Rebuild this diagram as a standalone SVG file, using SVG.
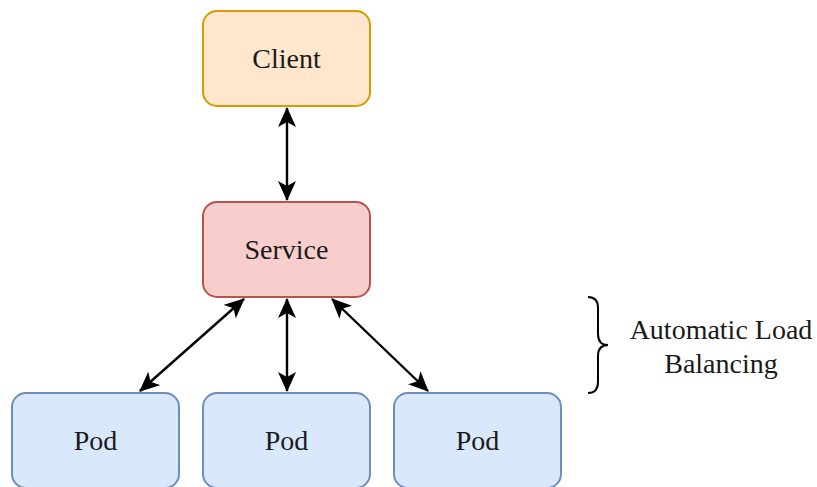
<svg xmlns="http://www.w3.org/2000/svg" width="817" height="487" viewBox="0 0 817 487">
<style>
.box{stroke-width:2}
.client{fill:#ffe6cc;stroke:#d79b00}
.service{fill:#f8cecc;stroke:#b85450}
.pod{fill:#dae8fc;stroke:#6c8ebf}
.lbl{font-family:"Liberation Serif",serif;font-size:28px;fill:#1a1a1a;text-anchor:middle}
.edge{stroke:#000;stroke-width:2.4;fill:none;marker-start:url(#ah);marker-end:url(#ah)}
</style>
<defs>
<marker id="ah" markerUnits="userSpaceOnUse" viewBox="0 0 20 18" markerWidth="20" markerHeight="18" refX="19" refY="9" orient="auto-start-reverse">
<path d="M0,0 L20,9 L0,18 L5,9 Z" fill="#000"/>
</marker>
</defs>
<rect width="817" height="487" fill="#fff"/>
<g id="edges">
<line class="edge" x1="287" y1="108" x2="287" y2="200"/>
<line class="edge" x1="287" y1="299" x2="287" y2="391"/>
<line class="edge" x1="244" y1="299" x2="140" y2="391"/>
<line class="edge" x1="332" y1="299" x2="428" y2="391"/>
</g>
<g id="client">
<rect class="box client" x="203" y="11" width="167" height="95" rx="14"/>
<text class="lbl" x="286.5" y="68">Client</text>
</g>
<g id="service">
<rect class="box service" x="203" y="202" width="167" height="95" rx="14"/>
<text class="lbl" x="286.5" y="259">Service</text>
</g>
<g id="pod1">
<rect class="box pod" x="12" y="393" width="167" height="95" rx="14"/>
<text class="lbl" x="95.5" y="450">Pod</text>
</g>
<g id="pod2">
<rect class="box pod" x="203" y="393" width="167" height="95" rx="14"/>
<text class="lbl" x="286.5" y="450">Pod</text>
</g>
<g id="pod3">
<rect class="box pod" x="394" y="393" width="167" height="95" rx="14"/>
<text class="lbl" x="477.5" y="450">Pod</text>
</g>
<g id="load-balancing">
<path d="M588,297 Q598,297 598,308 L598,334 Q598,345 608,345 Q598,345 598,356 L598,382 Q598,393 588,393" fill="none" stroke="#000" stroke-width="2"/>
<text class="lbl" x="721" y="339">Automatic Load</text>
<text class="lbl" x="721" y="373">Balancing</text>
</g>
</svg>
